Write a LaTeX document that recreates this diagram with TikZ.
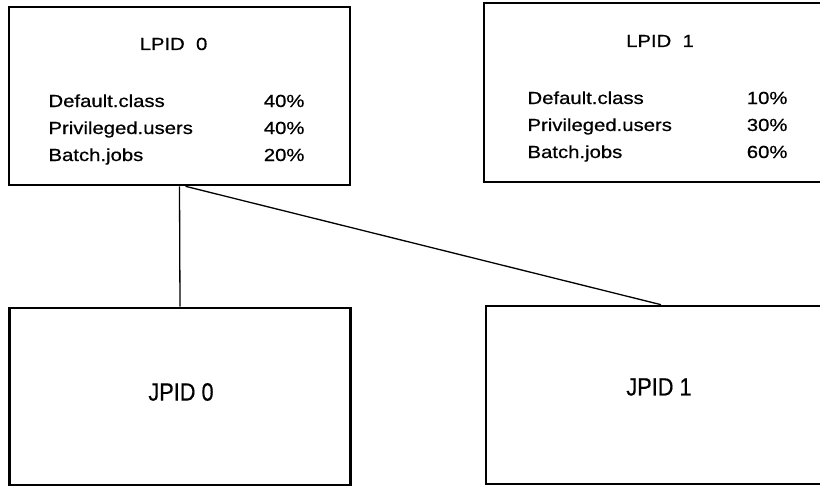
\documentclass[tikz,border=0pt]{standalone}
\usepackage{fontspec}
\setmainfont[FakeStretch=1.16,FakeBold=0.6]{Liberation Sans}
\newfontfamily\jpidfont[FakeStretch=0.87,FakeBold=0.4]{Liberation Sans}
\begin{document}
\begin{tikzpicture}[
    x=1pt, y=-1pt,
    box/.style={rectangle, draw, line width=2.6pt, inner sep=0pt},
    ltitle/.style={font=\fontsize{17.5}{20}\selectfont, anchor=base},
    rowlabel/.style={font=\fontsize{17.5}{20}\selectfont, anchor=base west},
    rowshare/.style={font=\fontsize{17.5}{20}\selectfont, anchor=base east},
    jtitle/.style={font=\jpidfont\fontsize{25}{28}\selectfont},
    link/.style={line width=1.3pt}
]
    \clip (0,0) rectangle (820,487);

    % Local policy boxes
    \node[box, minimum width=341pt, minimum height=178pt] (lpid0) at (179.5,96) {};
    \node[ltitle] (lpid0title) at (173.5,50) {LPID\ \ 0};
    \node[rowlabel] (l0a) at (45,107) {Default.class};
    \node[rowlabel] (l0b) at (45,134) {Privileged.users};
    \node[rowlabel] (l0c) at (45,161) {Batch.jobs};
    \node[rowshare] (l0av) at (308,107) {40\%};
    \node[rowshare] (l0bv) at (308,134) {40\%};
    \node[rowshare] (l0cv) at (308,161) {20\%};

    \node[box, minimum width=352pt, minimum height=179pt] (lpid1) at (660,92.5) {};
    \node[ltitle] (lpid1title) at (660,47) {LPID\ \ 1};
    \node[rowlabel] (l1a) at (524,104) {Default.class};
    \node[rowlabel] (l1b) at (524,131) {Privileged.users};
    \node[rowlabel] (l1c) at (524,158) {Batch.jobs};
    \node[rowshare] (l1av) at (791,104) {10\%};
    \node[rowshare] (l1bv) at (791,131) {30\%};
    \node[rowshare] (l1cv) at (791,158) {60\%};

    % Job policy boxes
    \node[box, minimum width=341pt, minimum height=177pt] (jpid0) at (180,396.5) {};
    \node[jtitle] (jpid0title) at (181,392) {JPID 0};

    \node[box, minimum width=350pt, minimum height=178pt] (jpid1) at (661,395) {};
    \node[jtitle] (jpid1title) at (659,387) {JPID 1};

    % Links
    \draw[link] (lpid0.south) -- (jpid0.north);
    \draw[link] ([xshift=6pt]lpid0.south) -- (jpid1.north);
\end{tikzpicture}
\end{document}
